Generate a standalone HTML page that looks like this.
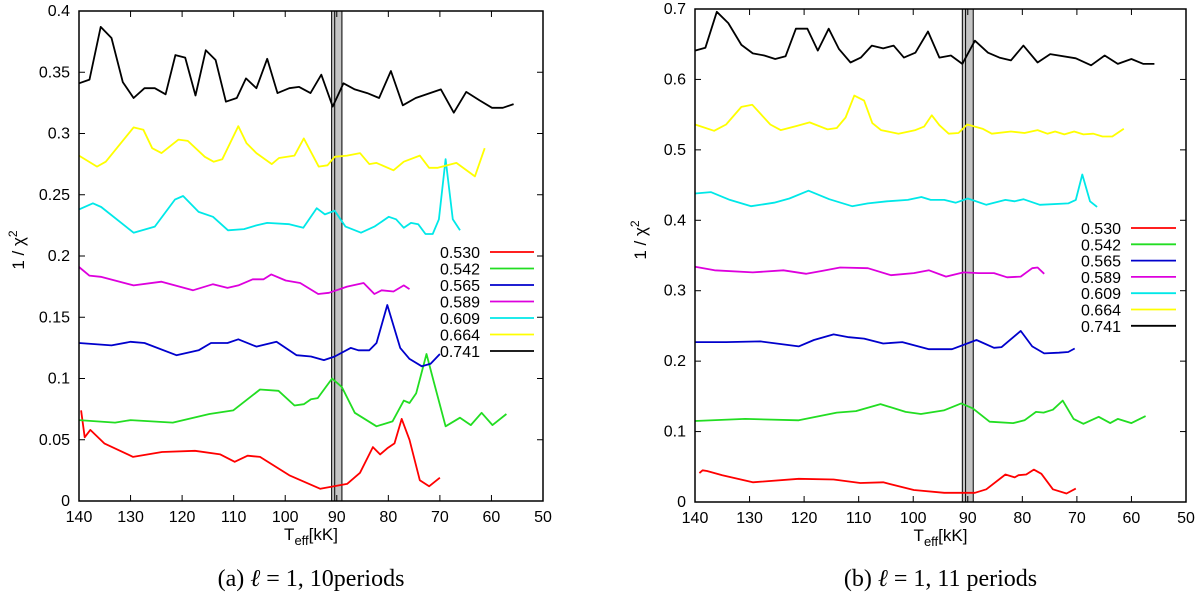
<!DOCTYPE html>
<html><head><meta charset="utf-8"><style>
html,body{margin:0;padding:0;background:#fff;width:1200px;height:595px;overflow:hidden}
svg{display:block}
text{font-family:"Liberation Sans",sans-serif;fill:#000}
.cap{font-family:"Liberation Serif",serif;font-size:24px}
</style></head><body>
<svg id="chart" width="1200" height="595" xmlns="http://www.w3.org/2000/svg"></svg>
<script>
const masses = ["0.530","0.542","0.565","0.589","0.609","0.664","0.741"];
const colors = ["#ff0000","#22dd22","#0000cc","#dd00dd","#00e8e8","#ffff00","#000000"];
const xTicks = [140,130,120,110,100,90,80,70,60,50];
const yTicksA = [0,0.05,0.1,0.15,0.2,0.25,0.3,0.35,0.4];
const yTicksB = [0,0.1,0.2,0.3,0.4,0.5,0.6,0.7];

const aT0=[139.6,138.9,137.8,135.1,129.5,123.9,117.5,112.6,109.8,107.3,104.9,99.2,93.2,88,85.5,83,81.6,80.2,78.8,77.4,75.9,73.9,72.1,70];
const aV0=[0.074,0.052,0.058,0.047,0.036,0.040,0.041,0.038,0.032,0.037,0.036,0.021,0.010,0.014,0.023,0.044,0.038,0.043,0.047,0.067,0.050,0.017,0.012,0.019];
const aT1=[140,133,130,121.8,114.7,110.1,104.9,101.3,98.2,96.4,95,93.7,90.9,89,86.5,82.3,79.2,77,75.9,74.6,72.6,71.1,68.9,66.1,64,61.9,59.8,57.1];
const aV1=[0.066,0.064,0.066,0.064,0.071,0.074,0.091,0.090,0.078,0.079,0.083,0.084,0.100,0.093,0.072,0.061,0.065,0.082,0.080,0.088,0.120,0.096,0.061,0.068,0.062,0.072,0.062,0.071];
const aT2=[140,133.7,130,127.3,121.1,116.8,114.4,111.2,109.1,105.6,101.7,97.8,95,92.5,90.4,87.3,85.8,83.7,82.3,80.2,77.7,75.9,73.5,71.8,70];
const aV2=[0.129,0.127,0.130,0.129,0.119,0.123,0.129,0.129,0.132,0.126,0.130,0.119,0.118,0.115,0.118,0.125,0.123,0.123,0.129,0.160,0.125,0.116,0.110,0.112,0.120];
const aT3=[140,138,135.8,129.4,124,117.9,114,111.2,109.1,106.3,104.2,102.7,99.9,97.1,93.6,91.5,88,84.8,82.7,81.3,79,77,75.9];
const aV3=[0.191,0.184,0.183,0.176,0.179,0.172,0.177,0.174,0.176,0.181,0.181,0.185,0.180,0.178,0.169,0.170,0.175,0.178,0.169,0.172,0.171,0.176,0.173];
const aT4=[140,137.3,135.7,129.4,125.3,121.4,119.8,116.8,114,111.1,108,105.6,103.5,99.2,96.5,93.9,92.3,90.4,88.3,85.3,82.7,79.9,78.5,77,75.6,74.2,72.8,71.4,70.2,68.9,67.5,66.1];
const aV4=[0.238,0.243,0.240,0.219,0.224,0.246,0.249,0.236,0.232,0.221,0.222,0.225,0.227,0.226,0.223,0.239,0.234,0.237,0.224,0.219,0.224,0.232,0.230,0.223,0.227,0.226,0.218,0.218,0.230,0.279,0.230,0.221];
const aT5=[140,136.5,134.8,129.4,127.5,125.8,124,120.7,118.9,115.6,113.9,112.2,109.1,107.5,105.6,102.6,101.2,98.2,96.4,93.5,91.8,90.4,88,85.5,83.7,82.3,79,77,73.9,72.1,70.4,66.8,63.2,61.3];
const aV5=[0.282,0.273,0.277,0.305,0.303,0.288,0.284,0.295,0.294,0.281,0.277,0.279,0.306,0.292,0.284,0.275,0.280,0.282,0.296,0.273,0.274,0.281,0.282,0.284,0.275,0.276,0.270,0.277,0.282,0.272,0.272,0.276,0.265,0.288];
const aT6=[140,137.96,135.8,133.7,131.5,129.4,127.3,125.3,123.2,121.3,119.4,117.4,115.4,113.5,111.5,109.4,107.6,105.6,103.5,101.5,99.2,97.3,95.1,93,90.8,88.7,86.5,84.1,81.8,79.5,77.2,74.7,69.8,67.3,64.9,62.3,59.9,57.8,55.7];
const aV6=[0.341,0.344,0.387,0.378,0.342,0.329,0.337,0.337,0.332,0.364,0.362,0.331,0.368,0.360,0.326,0.329,0.345,0.337,0.361,0.333,0.337,0.338,0.333,0.348,0.322,0.341,0.336,0.333,0.329,0.351,0.323,0.329,0.336,0.317,0.334,0.327,0.321,0.321,0.324];

const bT0=[139.2,138.6,137.8,135,129.4,121,114.6,109.7,105.5,99.9,94.3,88.7,86.6,83.1,81.4,80.7,79.3,77.9,76.5,74.4,71.9,70.2];
const bV0=[0.041,0.045,0.044,0.038,0.028,0.033,0.032,0.027,0.028,0.017,0.013,0.013,0.018,0.039,0.035,0.038,0.039,0.046,0.040,0.018,0.012,0.019];
const bT1=[140,130.8,121,114,110.5,106,101.4,98.6,94.4,91.2,89.1,86,81.7,79.6,77.5,76.1,74.4,72.6,70.6,68.8,66,63.9,62.5,60,57.4];
const bV1=[0.115,0.118,0.116,0.127,0.129,0.139,0.128,0.125,0.130,0.140,0.133,0.114,0.112,0.116,0.128,0.127,0.131,0.144,0.118,0.111,0.121,0.112,0.118,0.112,0.122];
const bT2=[140,134.3,128,121,118.2,114.6,111.8,109,105.5,102,97.1,92.9,88.4,85.2,83.8,80.3,78.2,76,73.3,71.6,70.4];
const bV2=[0.227,0.227,0.228,0.221,0.230,0.238,0.234,0.232,0.225,0.227,0.217,0.217,0.230,0.219,0.220,0.243,0.221,0.211,0.212,0.213,0.218];
const bT3=[140,136.4,129.4,123.8,119.6,116.8,113.4,108.3,104.1,99.9,97.1,94,90.8,88,85.2,82.8,80.3,78.2,77.2,76];
const bV3=[0.334,0.329,0.326,0.329,0.324,0.328,0.333,0.332,0.322,0.325,0.329,0.320,0.326,0.325,0.325,0.319,0.320,0.332,0.333,0.324];
const bT4=[140,137.1,133.6,129.7,125.5,122.7,119.2,115.4,111.2,108.3,104.8,101,98.5,96.8,94.3,92.2,90,86.6,83.1,81.4,79.8,76.8,71.6,70.2,69,67.6,66.3];
const bV4=[0.438,0.440,0.429,0.420,0.425,0.431,0.442,0.430,0.420,0.424,0.427,0.429,0.433,0.429,0.429,0.425,0.431,0.422,0.429,0.427,0.430,0.422,0.424,0.429,0.465,0.427,0.419];
const bT5=[140,136.5,134.3,131.5,129.5,126.2,124.3,121.3,119,115.7,114,112.4,110.8,109,107.5,105.9,102.7,99.6,98,96.6,95.2,93.5,91.7,90.1,87.3,85.6,82.1,79.6,77.2,75.4,74,72.3,70.5,68.8,67,65.3,63.5,61.4];
const bV5=[0.536,0.527,0.536,0.561,0.564,0.536,0.528,0.534,0.539,0.529,0.531,0.546,0.577,0.570,0.538,0.528,0.523,0.528,0.533,0.549,0.535,0.523,0.524,0.536,0.530,0.523,0.526,0.524,0.528,0.523,0.526,0.522,0.526,0.522,0.523,0.519,0.519,0.530];
const bT6=[140,138.1,136,133.9,131.5,129.4,127.3,125.3,123.4,121.5,119.4,117.5,115.5,113.6,111.5,109.6,107.6,105.5,103.6,101.7,99.6,97.3,95.2,93.1,91,88.7,86.3,84.2,82.1,79.8,77.2,74.9,70.2,67.4,64.9,62.5,60,57.8,55.8];
const bV6=[0.641,0.645,0.696,0.680,0.649,0.637,0.634,0.629,0.633,0.672,0.672,0.641,0.672,0.643,0.624,0.631,0.648,0.644,0.648,0.631,0.638,0.668,0.631,0.634,0.622,0.655,0.638,0.631,0.627,0.648,0.624,0.636,0.630,0.620,0.634,0.622,0.629,0.622,0.622];

const band = [91, 89];
const NS="http://www.w3.org/2000/svg";
const svg=document.getElementById('chart');
function mk(tag,attrs,parent){const e=document.createElementNS(NS,tag);for(const k in attrs)e.setAttribute(k,attrs[k]);(parent||svg).appendChild(e);return e;}

function panel(cfg){
  const g=mk('g',{});
  
  
  const {x0,x1,yTop,yBot,ymax,yticks}=cfg;
  const sx=t=>x0+(140-t)/90*(x1-x0);
  const sy=v=>yBot-v/ymax*(yBot-yTop);
  const b=mk('rect',{x:sx(band[0]),y:yTop,width:sx(band[1])-sx(band[0]),height:yBot-yTop,fill:'#c4c4c4',stroke:'#000','stroke-width':1},g);
  
  
  const bl=mk('line',{x1:sx((band[0]+band[1])/2+0.4),x2:sx((band[0]+band[1])/2+0.4),y1:yTop,y2:yBot,stroke:'#000','stroke-width':1},g);
  
  
  cfg.series.forEach((s,i)=>{
    const d=s[0].map((t,j)=>(j?'L':'M')+sx(t).toFixed(1)+','+sy(s[1][j]).toFixed(1)).join('');
    const p=mk('path',{d:d,fill:'none',stroke:colors[i],'stroke-width':1.8,'stroke-linejoin':'round'},g);
    
    
  });
  const f=mk('rect',{x:x0,y:yTop,width:x1-x0,height:yBot-yTop,fill:'none',stroke:'#000','stroke-width':1.5},g);
  
  
  xTicks.forEach(t=>{
    const x=sx(t);
    mk('line',{x1:x,x2:x,y1:yBot,y2:yBot-6,stroke:'#000','stroke-width':1},g);
    mk('line',{x1:x,x2:x,y1:yTop,y2:yTop+6,stroke:'#000','stroke-width':1},g);
    const tx=mk('text',{x:x,y:yBot+21,'text-anchor':'middle','font-size':16},g);
    tx.textContent=t;
    
    
  });
  yticks.forEach(v=>{
    const y=sy(v);
    mk('line',{x1:x0,x2:x0+6,y1:y,y2:y,stroke:'#000','stroke-width':1},g);
    mk('line',{x1:x1,x2:x1-6,y1:y,y2:y,stroke:'#000','stroke-width':1},g);
    const tx=mk('text',{x:x0-9,y:y+5,'text-anchor':'end','font-size':16},g);
    tx.textContent=String(v);
    
    
  });
  masses.forEach((m,i)=>{
    const y=cfg.legY+i*cfg.legDy;
    const tx=mk('text',{x:cfg.legTx,y:y+6,'text-anchor':'end','font-size':16},g);
    tx.textContent=m;
    
    
    const ln=mk('line',{x1:cfg.legL1,x2:cfg.legL2,y1:y,y2:y,stroke:colors[i],'stroke-width':1.8},g);
    
    
  });
  const yt=mk('text',{transform:`translate(${cfg.ytx},${cfg.yty}) rotate(-90)`,'text-anchor':'middle','font-size':17},g);
  yt.innerHTML='1 / χ<tspan dy="-7" font-size="12">2</tspan>';
  
  
  const xc=(x0+x1)/2;
  const xt=mk('text',{x:xc,y:yBot+39,'text-anchor':'middle','font-size':17},g);
  xt.innerHTML='T<tspan dy="5" font-size="13">eff</tspan><tspan dy="-5">[kK]</tspan>';
  
  
  const cp=mk('text',{x:xc,y:586,'text-anchor':'middle','class':'cap'},g);
  cp.innerHTML=cfg.caption;
  
  
}

panel({name:'panel-a',x0:79,x1:543,yTop:11,yBot:501,ymax:0.4,yticks:yTicksA,
  series:[[aT0,aV0],[aT1,aV1],[aT2,aV2],[aT3,aV3],[aT4,aV4],[aT5,aV5],[aT6,aV6]],
  legY:252,legDy:16.5,legTx:480,legL1:490,legL2:534,ytx:24,yty:250,
  caption:'(a) <tspan font-style="italic">ℓ</tspan> = 1, 10periods'});
panel({name:'panel-b',x0:695,x1:1186,yTop:9,yBot:502,ymax:0.7,yticks:yTicksB,
  series:[[bT0,bV0],[bT1,bV1],[bT2,bV2],[bT3,bV3],[bT4,bV4],[bT5,bV5],[bT6,bV6]],
  legY:228,legDy:16.3,legTx:1121,legL1:1131,legL2:1176,ytx:646,yty:240,
  caption:'(b) <tspan font-style="italic">ℓ</tspan> = 1, 11 periods'});
</script>
</body></html>
